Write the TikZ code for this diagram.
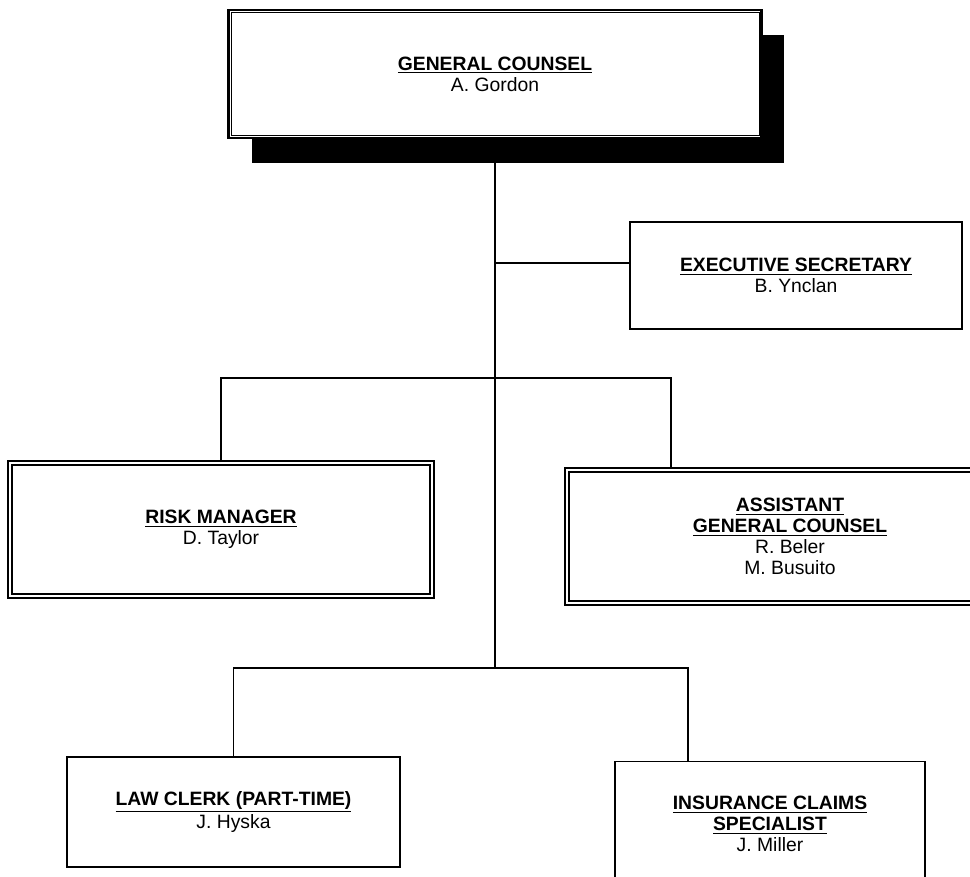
\documentclass[tikz,border=0pt]{standalone}
\usepackage{fontspec}
\setmainfont{Liberation Sans}
\usetikzlibrary{calc,shadows}

\newcommand{\puesto}[1]{\textbf{\underline{#1}}}

\begin{document}
\begin{tikzpicture}[x=0.02cm, y=-0.02cm,
  plainbox/.style={draw, line width=0.9pt, fill=white, align=center,
    font=\fontsize{11}{12}\selectfont},
  dbox/.style={plainbox, double, double distance=1.2pt},
  bossbox/.style={plainbox, line width=1.6pt,
    drop shadow={shadow xshift=0.46cm, shadow yshift=-0.5cm, fill=black, opacity=1}},
  line/.style={line width=1.1pt}]
  \useasboundingbox (0,0) rectangle (970,876);

  % General Counsel (top)
  \node[bossbox, minimum width=10.66cm, minimum height=2.56cm] (gc) at (495,74)
    {\puesto{GENERAL COUNSEL}\\A. Gordon};
  \draw[thin] ($(gc.north west)+(4,4)$) rectangle ($(gc.south east)+(-4,-4)$);

  % Executive secretary
  \node[plainbox, minimum width=6.64cm, minimum height=2.14cm] (exec) at (796,275.5)
    {\puesto{EXECUTIVE SECRETARY}\\B. Ynclan};

  % middle row
  \node[dbox, minimum width=8.44cm, minimum height=2.66cm] (risk) at (221,529.5)
    {\puesto{RISK MANAGER}\\D. Taylor};
  \node[dbox, minimum width=8.92cm, minimum height=2.66cm] (asst) at (790,536.5)
    {\puesto{ASSISTANT}\\\puesto{GENERAL COUNSEL}\\R. Beler\\M. Busuito};

  % bottom row
  \node[plainbox, minimum width=6.66cm, minimum height=2.2cm] (law) at (233.5,812)
    {\puesto{LAW CLERK (PART-TIME)}\\J. Hyska};
  \node[plainbox, minimum width=6.2cm, minimum height=2.5cm] (ins) at (770,824)
    {\puesto{INSURANCE CLAIMS}\\\puesto{SPECIALIST}\\J. Miller};

  % connectors
  \coordinate (j1) at (495,263);
  \coordinate (j2) at (495,378);
  \coordinate (j3) at (495,668);
  \draw[line] (gc.south) -- (j3);
  \draw[line] (j1) -- (j1 -| exec.west);
  \draw[line] (risk.north) |- (j2) -| ([xshift=2.1cm]asst.north west);
  \draw[line] (law.north) |- (j3) -| ([xshift=1.48cm]ins.north west);
\end{tikzpicture}
\end{document}
